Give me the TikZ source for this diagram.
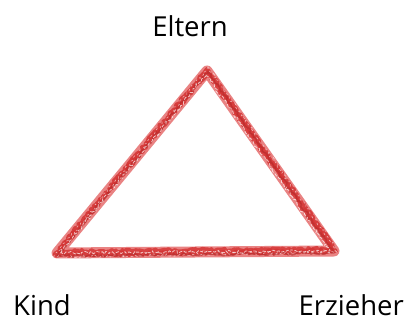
\documentclass[tikz,border=0pt]{standalone}
\usepackage{fontspec}
\setmainfont{Open Sans}
\usetikzlibrary{decorations.pathmorphing,calc}
\definecolor{crayon}{RGB}{212,50,50}
\definecolor{crayonlight}{RGB}{228,100,100}
\tikzset{
  label/.style={font=\fontsize{27.5}{32}\selectfont, text=black, inner sep=0pt},
  chalk/.style={line width=#1, line join=round, line cap=round, decorate,
    decoration={random steps, segment length=2pt, amplitude=1.5pt}},
}
\begin{document}
\begin{tikzpicture}[x=1pt,y=-1pt]
\useasboundingbox (0,0) rectangle (408,320);
\pgfmathsetseed{11}
\coordinate (T) at (207,71);
\coordinate (L) at (57,253);
\coordinate (R) at (334,251);
% base stroke
\draw[crayonlight, line width=11pt, line join=round, line cap=round, opacity=0.8] (T) -- (R) -- (L) -- cycle;
% crayon texture strokes
\draw[crayon, chalk=4pt, opacity=0.85] ($(T)+(0,-2)$) -- ($(R)+(2,0)$) -- ($(L)+(-2,2)$) -- cycle;
\draw[crayon, chalk=3.5pt, opacity=0.8] ($(T)+(0,2)$) -- ($(R)+(-2,-2)$) -- ($(L)+(2,-2)$) -- cycle;
\draw[crayon!85!black, chalk=1.5pt, opacity=0.6] ($(T)+(1,0)$) -- ($(R)+(0,2)$) -- ($(L)+(0,3)$) -- cycle;
\draw[white, chalk=0.8pt, opacity=0.7, dash pattern=on 3pt off 2pt] ($(T)+(-1,4)$) -- ($(R)+(-4,0)$) -- ($(L)+(3,0)$) -- cycle;
\draw[white, chalk=0.6pt, opacity=0.6, dash pattern=on 2pt off 3pt] ($(T)+(1,-4)$) -- ($(R)+(4,1)$) -- ($(L)+(-3,4)$) -- cycle;
\node[label, anchor=base] (eltern) at (190,37) {Eltern};
\node[label, anchor=base west] (kind) at (13,316) {Kind};
\node[label, anchor=base east] (erzieher) at (404,316) {Erzieher};
\end{tikzpicture}
\end{document}
